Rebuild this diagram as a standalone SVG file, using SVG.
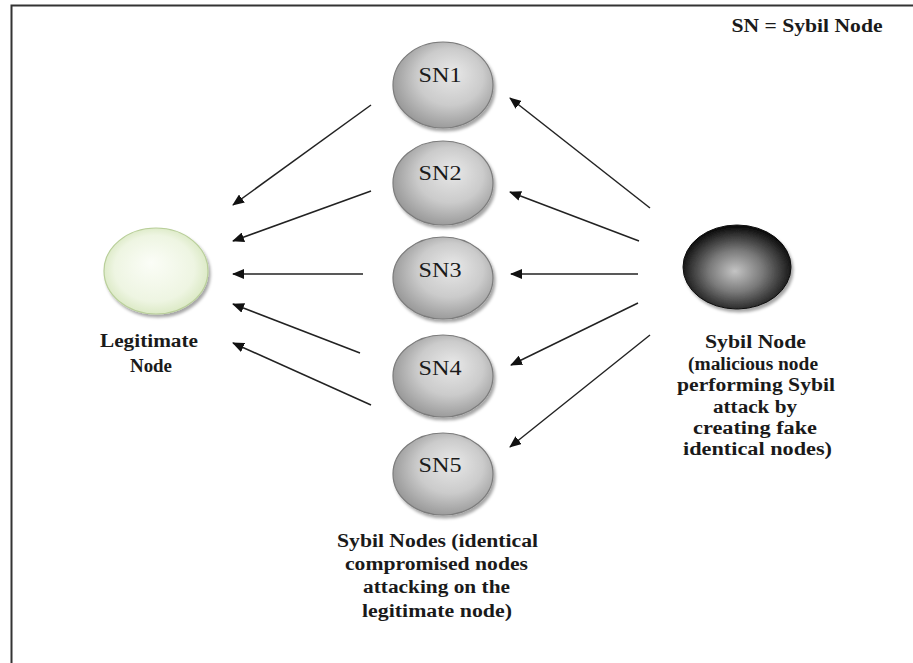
<svg xmlns="http://www.w3.org/2000/svg" width="913" height="663" viewBox="0 0 913 663">
  <style>
    .lbl { font-family: "Liberation Serif", "Times New Roman", serif; fill: #1a1a1a; }
    .sn { font-size: 20px; text-anchor: middle; }
    .cap { font-size: 18.5px; font-weight: bold; text-anchor: middle; }
    .edge { stroke: #222; stroke-width: 1.5; fill: none; marker-end: url(#arrow); }
    .sybil { fill: url(#gGray); stroke: #7c7c7c; stroke-width: 1.2; filter: url(#shadow); }
  </style>
  <defs>
    <marker id="arrow" viewBox="0 0 12 10" refX="11" refY="5" markerWidth="12" markerHeight="10" markerUnits="userSpaceOnUse" orient="auto">
      <path d="M0,0 L12,5 L0,10 Z" fill="#111"/>
    </marker>
    <radialGradient id="gGray" cx="55%" cy="45%" r="60%" fx="60%" fy="35%">
      <stop offset="0" stop-color="#e8e8e8"/>
      <stop offset="0.55" stop-color="#cbcbcb"/>
      <stop offset="1" stop-color="#939393"/>
    </radialGradient>
    <radialGradient id="gGreen" cx="50%" cy="50%" r="55%" fx="45%" fy="40%">
      <stop offset="0" stop-color="#fbfdf7"/>
      <stop offset="0.7" stop-color="#eef5e2"/>
      <stop offset="1" stop-color="#d6e6bd"/>
    </radialGradient>
    <radialGradient id="gDark" cx="50%" cy="55%" r="55%" fx="48%" fy="55%">
      <stop offset="0" stop-color="#c4c4c4"/>
      <stop offset="0.45" stop-color="#7a7a7a"/>
      <stop offset="0.85" stop-color="#262626"/>
      <stop offset="1" stop-color="#050505"/>
    </radialGradient>
    <filter id="shadow" x="-20%" y="-20%" width="150%" height="150%">
      <feDropShadow dx="2" dy="3" stdDeviation="1.8" flood-color="#000" flood-opacity="0.35"/>
    </filter>
  </defs>

  <rect width="913" height="663" fill="#fff"/>
  <!-- frame -->
  <path d="M11.5,663 V5.5 H913" fill="none" stroke="#333" stroke-width="2"/>

  <!-- key -->
  <text class="lbl cap" x="807" y="32" textLength="151" lengthAdjust="spacingAndGlyphs">SN = Sybil Node</text>

  <!-- connectors -->
  <g id="connectors">
    <line class="edge" x1="371" y1="105" x2="233" y2="205"/>
    <line class="edge" x1="371" y1="191" x2="233" y2="241"/>
    <line class="edge" x1="363" y1="274" x2="233" y2="274"/>
    <line class="edge" x1="360" y1="353" x2="233" y2="304"/>
    <line class="edge" x1="371" y1="405" x2="233" y2="343"/>
    <line class="edge" x1="650" y1="208" x2="510" y2="98"/>
    <line class="edge" x1="639" y1="241" x2="510" y2="192"/>
    <line class="edge" x1="638" y1="274" x2="511" y2="274"/>
    <line class="edge" x1="638" y1="303" x2="511" y2="365"/>
    <line class="edge" x1="650" y1="335" x2="510" y2="447"/>
  </g>

  <!-- legitimate node -->
  <g id="legitimate">
    <ellipse cx="156" cy="271" rx="52" ry="43" fill="url(#gGreen)" stroke="#b9cf9a" stroke-width="1.2" filter="url(#shadow)"/>
    <text class="lbl cap" x="149" y="347" textLength="98" lengthAdjust="spacingAndGlyphs">Legitimate</text>
    <text class="lbl cap" x="151" y="372" textLength="42" lengthAdjust="spacingAndGlyphs">Node</text>
  </g>

  <!-- sybil identities -->
  <g id="sn1">
    <ellipse class="sybil" cx="443" cy="85" rx="50" ry="43"/>
    <text class="lbl sn" x="440" y="82" textLength="43" lengthAdjust="spacingAndGlyphs">SN1</text>
  </g>
  <g id="sn2">
    <ellipse class="sybil" cx="443" cy="183" rx="50" ry="42"/>
    <text class="lbl sn" x="440" y="180" textLength="43" lengthAdjust="spacingAndGlyphs">SN2</text>
  </g>
  <g id="sn3">
    <ellipse class="sybil" cx="443" cy="278" rx="50" ry="41"/>
    <text class="lbl sn" x="440" y="277" textLength="43" lengthAdjust="spacingAndGlyphs">SN3</text>
  </g>
  <g id="sn4">
    <ellipse class="sybil" cx="443" cy="376" rx="50" ry="41"/>
    <text class="lbl sn" x="440" y="375" textLength="43" lengthAdjust="spacingAndGlyphs">SN4</text>
  </g>
  <g id="sn5">
    <ellipse class="sybil" cx="443" cy="474" rx="50" ry="41"/>
    <text class="lbl sn" x="440" y="472" textLength="43" lengthAdjust="spacingAndGlyphs">SN5</text>
  </g>
  <g id="sn-caption">
    <text class="lbl cap" x="437.5" y="547" textLength="201" lengthAdjust="spacingAndGlyphs">Sybil Nodes (identical</text>
    <text class="lbl cap" x="436.5" y="570" textLength="183" lengthAdjust="spacingAndGlyphs">compromised nodes</text>
    <text class="lbl cap" x="436.5" y="593" textLength="147" lengthAdjust="spacingAndGlyphs">attacking on the</text>
    <text class="lbl cap" x="437" y="617" textLength="150" lengthAdjust="spacingAndGlyphs">legitimate node)</text>
  </g>

  <!-- attacker -->
  <g id="attacker">
    <ellipse cx="737" cy="267" rx="54" ry="42" fill="url(#gDark)" stroke="#111" stroke-width="1" filter="url(#shadow)"/>
    <text class="lbl cap" x="755.5" y="348" textLength="101" lengthAdjust="spacingAndGlyphs">Sybil Node</text>
    <text class="lbl cap" x="753" y="369.5" textLength="130" lengthAdjust="spacingAndGlyphs">(malicious node</text>
    <text class="lbl cap" x="756" y="391" textLength="158" lengthAdjust="spacingAndGlyphs">performing Sybil</text>
    <text class="lbl cap" x="755" y="412.5" textLength="84" lengthAdjust="spacingAndGlyphs">attack by</text>
    <text class="lbl cap" x="755" y="434" textLength="124" lengthAdjust="spacingAndGlyphs">creating fake</text>
    <text class="lbl cap" x="757.5" y="455" textLength="149" lengthAdjust="spacingAndGlyphs">identical nodes)</text>
  </g>
</svg>
